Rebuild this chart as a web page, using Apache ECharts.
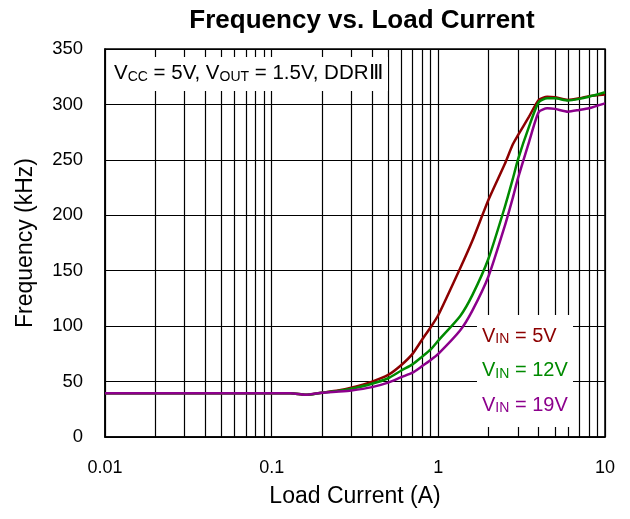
<!DOCTYPE html>
<html>
<head>
<meta charset="utf-8">
<script src="https://cdn.jsdelivr.net/npm/echarts@6/dist/echarts.min.js"></script>
<style>
  html, body { margin: 0; padding: 0; background: #fff; }
  #chart { width: 630px; height: 519px; }
</style>
</head>
<body>
<div id="chart"></div>
<script>
// Load current (A) sample points
const loadCurrent = [0.01, 0.02, 0.05, 0.1, 0.13, 0.16, 0.2, 0.25, 0.3, 0.4, 0.5, 0.6, 0.7, 0.8, 0.9, 1, 1.35, 1.6, 2, 2.5, 2.8, 3, 3.5, 4, 4.5, 5, 6, 7, 8, 10];
// Switching frequency (kHz) for each input voltage
const freqVin5  = [39.5, 39.5, 39.5, 39.5, 39.5, 38, 40, 42, 44.5, 50, 56, 65, 75, 88, 99, 110, 152, 177, 214, 246, 264, 272, 289, 304, 307, 306.5, 304, 305.5, 307.5, 309];
const freqVin12 = [39.5, 39.5, 39.5, 39.5, 39.5, 38, 40, 41.5, 43.5, 48, 53, 60, 65.5, 72.5, 79, 87, 109, 128, 161, 207, 233, 250, 280, 302, 305.5, 305.5, 303.5, 305, 307, 311];
const freqVin19 = [39.5, 39.5, 39.5, 39.5, 39.5, 38, 40, 41, 42, 45, 49, 54, 58, 64, 69.5, 75, 96, 114, 145, 190, 216, 233, 266, 293, 296.5, 296, 293.5, 295, 296.5, 301];

const seriesNames = ['VIN = 5V', 'VIN = 12V', 'VIN = 19V'];
const seriesColors = ['#8c0000', '#008a00', '#8c008c'];

// Log-axis minor grid positions (2..9 in each decade)
const minorGrid = [];
[0.01, 0.1, 1].forEach(d => { for (let k = 2; k <= 9; k++) minorGrid.push(+(d * k).toFixed(4)); });

const xTickLabels = { 0.01: '0.01', 0.1: '0.1', 1: '1', 10: '10' };

const pairs = ys => loadCurrent.map((x, i) => [x, ys[i]]);

const chart = echarts.init(document.getElementById('chart'), null, { renderer: 'canvas' });
const font = 'Liberation Sans, Arial, Helvetica, sans-serif';

const lineSeries = [freqVin5, freqVin12, freqVin19].map((ys, i) => ({
  name: seriesNames[i],
  type: 'line',
  data: pairs(ys),
  showSymbol: false,
  smooth: 0.2,
  z: 5,
  lineStyle: { color: seriesColors[i], width: 2.5 },
  itemStyle: { color: seriesColors[i] }
}));

const sub = { fontSize: 14, verticalAlign: 'bottom', padding: [7, 0, 0, 0], fontFamily: font };

chart.setOption({
  animation: false,
  backgroundColor: '#fff',
  title: {
    text: 'Frequency vs. Load Current',
    left: 357, top: 3, textAlign: 'center',
    textStyle: { fontFamily: font, fontSize: 26, fontWeight: 'bold', color: '#000' }
  },
  grid: {
    left: 105, right: 25, top: 49, bottom: 82,
    show: true, borderColor: '#000', borderWidth: 1.5, backgroundColor: 'transparent'
  },
  xAxis: {
    type: 'log', logBase: 10, min: 0.01, max: 10,
    name: 'Load Current (A)', nameLocation: 'middle', nameGap: 48,
    nameTextStyle: { fontFamily: font, fontSize: 23, color: '#000' },
    axisLine: { show: true, lineStyle: { color: '#000', width: 1.5 } },
    axisTick: { show: false },
    axisLabel: {
      fontFamily: font, fontSize: 18, color: '#000', margin: 22,
      formatter: v => xTickLabels[+v.toPrecision(3)] || ''
    },
    splitLine: { show: true, lineStyle: { color: '#000', width: 1.2 } }
  },
  yAxis: {
    type: 'value', min: 0, max: 350, interval: 50,
    name: 'Frequency (kHz)', nameLocation: 'middle', nameGap: 68,
    nameTextStyle: { fontFamily: font, fontSize: 23, color: '#000' },
    axisLine: { show: true, lineStyle: { color: '#000', width: 1.5 } },
    axisTick: { show: false },
    axisLabel: { fontFamily: font, fontSize: 18.5, color: '#000', margin: 22 },
    splitLine: { show: true, lineStyle: { color: '#000', width: 1.2 } }
  },
  series: [
    {
      type: 'line', data: [], silent: true,
      markLine: {
        silent: true, symbol: 'none', animation: false,
        label: { show: false },
        lineStyle: { color: '#000', width: 1.2, type: 'solid' },
        data: minorGrid.map(v => ({ xAxis: v }))
      }
    },
    ...lineSeries
  ],
  graphic: [
    {
      type: 'rect', z: 50, shape: { x: 107, y: 57, width: 281, height: 34 },
      style: { fill: '#fff' }
    },
    {
      type: 'text', z: 51, left: 114, top: 63,
      style: {
        rich: { n: { fontSize: 20.5, fontFamily: font, fill: '#000' }, s: Object.assign({ fill: '#000' }, sub) },
        text: '{n|V}{s|CC}{n| = 5V, V}{s|OUT}{n| = 1.5V, DDRⅢ}'
      }
    },
    {
      type: 'rect', z: 50, shape: { x: 477, y: 315, width: 96, height: 112 },
      style: { fill: '#fff' }
    },
    ...['5V', '12V', '19V'].map((v, i) => ({
      type: 'text', z: 51, left: 482, top: 326 + i * 34.5,
      style: {
        rich: {
          n: { fontSize: 20, fontFamily: font, fill: seriesColors[i] },
          s: Object.assign({ fill: seriesColors[i] }, sub)
        },
        text: '{n|V}{s|IN}{n| = ' + v + '}'
      }
    }))
  ]
});
</script>
</body>
</html>
